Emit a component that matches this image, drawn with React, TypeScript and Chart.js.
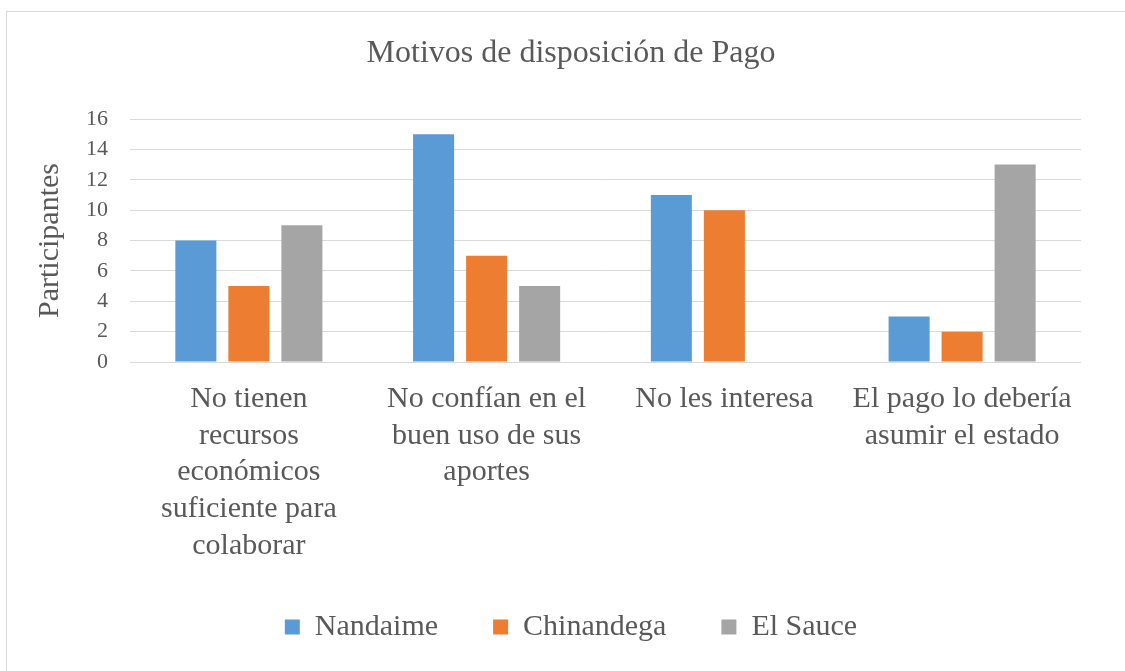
import React, { useEffect, useRef } from "react";
import { Chart, registerables } from "chart.js";

Chart.register(...registerables);

const chartTitle = "Motivos de disposición de Pago";
const yAxisTitle = "Participantes";
const categories: string[][] = [
  ["No tienen", "recursos", "económicos", "suficiente para", "colaborar"],
  ["No confían en el", "buen uso de sus", "aportes"],
  ["No les interesa"],
  ["El pago lo debería", "asumir el estado"],
];
const seriesNames = ["Nandaime", "Chinandega", "El Sauce"];
const nandaime = [8, 15, 11, 3];
const chinandega = [5, 7, 10, 2];
const elSauce = [9, 5, 0, 13];
const yMin = 0;
const yMax = 16;
const yStep = 2;

const colors = ["#5B9BD5", "#ED7D31", "#A5A5A5"];
const FONT = '"Liberation Serif", "Times New Roman", serif';
const TEXT = "#595959";

export default function App() {
  const ref = useRef<HTMLCanvasElement | null>(null);

  useEffect(() => {
    if (!ref.current) return;
    const data = [nandaime, chinandega, elSauce];
    const chart = new Chart(ref.current, {
      type: "bar",
      data: {
        labels: categories,
        datasets: seriesNames.map((name, i) => ({
          label: name,
          data: data[i],
          backgroundColor: colors[i],
          borderWidth: 0,
          categoryPercentage: 0.669,
          barPercentage: 0.774,
        })),
      },
      options: {
        responsive: false,
        animation: false,
        devicePixelRatio: 1,
        layout: { padding: { left: 61, right: 44, top: 0, bottom: 19 } },
        plugins: {
          title: {
            display: true,
            text: chartTitle,
            color: TEXT,
            font: { family: FONT, size: 32, weight: "normal", lineHeight: 1.2 },
            padding: { top: 34, bottom: 46.6 },
          },
          legend: {
            position: "bottom",
            labels: {
              color: TEXT,
              font: { family: FONT, size: 30 },
              boxWidth: 15,
              boxHeight: 15,
              padding: 55,
            },
          },
          tooltip: { enabled: false },
        },
        scales: {
          x: {
            grid: { display: false, drawTicks: false },
            border: { display: false },
            ticks: {
              color: TEXT,
              font: { family: FONT, size: 30, lineHeight: 1.22 },
              padding: 19,
              maxRotation: 0,
              autoSkip: false,
            },
            afterFit: (scale: any) => {
              scale.height = 195;
            },
          },
          y: {
            min: yMin,
            max: yMax,
            grid: { color: "#d9d9d9", lineWidth: 1, drawTicks: false },
            border: { display: false },
            ticks: {
              stepSize: yStep,
              color: TEXT,
              font: { family: FONT, size: 22 },
              padding: 22,
            },
            title: {
              display: true,
              text: yAxisTitle,
              color: TEXT,
              font: { family: FONT, size: 30, lineHeight: 1 },
              padding: { top: -26, bottom: 0 },
            },
            afterFit: (scale: any) => {
              scale.width = 69;
            },
          },
        },
      },
    });
    return () => chart.destroy();
  }, []);

  return (
    <div
      style={{
        position: "fixed",
        left: 0,
        top: 0,
        width: 1125,
        height: 671,
        overflow: "hidden",
        background: "#ffffff",
      }}
    >
      <div
        style={{
          position: "absolute",
          left: 6,
          top: 11,
          width: 1300,
          height: 900,
          border: "1px solid #d9d9d9",
          boxSizing: "border-box",
        }}
      />
      <canvas
        ref={ref}
        width={1125}
        height={671}
        style={{ position: "absolute", left: 0, top: 0, display: "block" }}
      />
    </div>
  );
}
